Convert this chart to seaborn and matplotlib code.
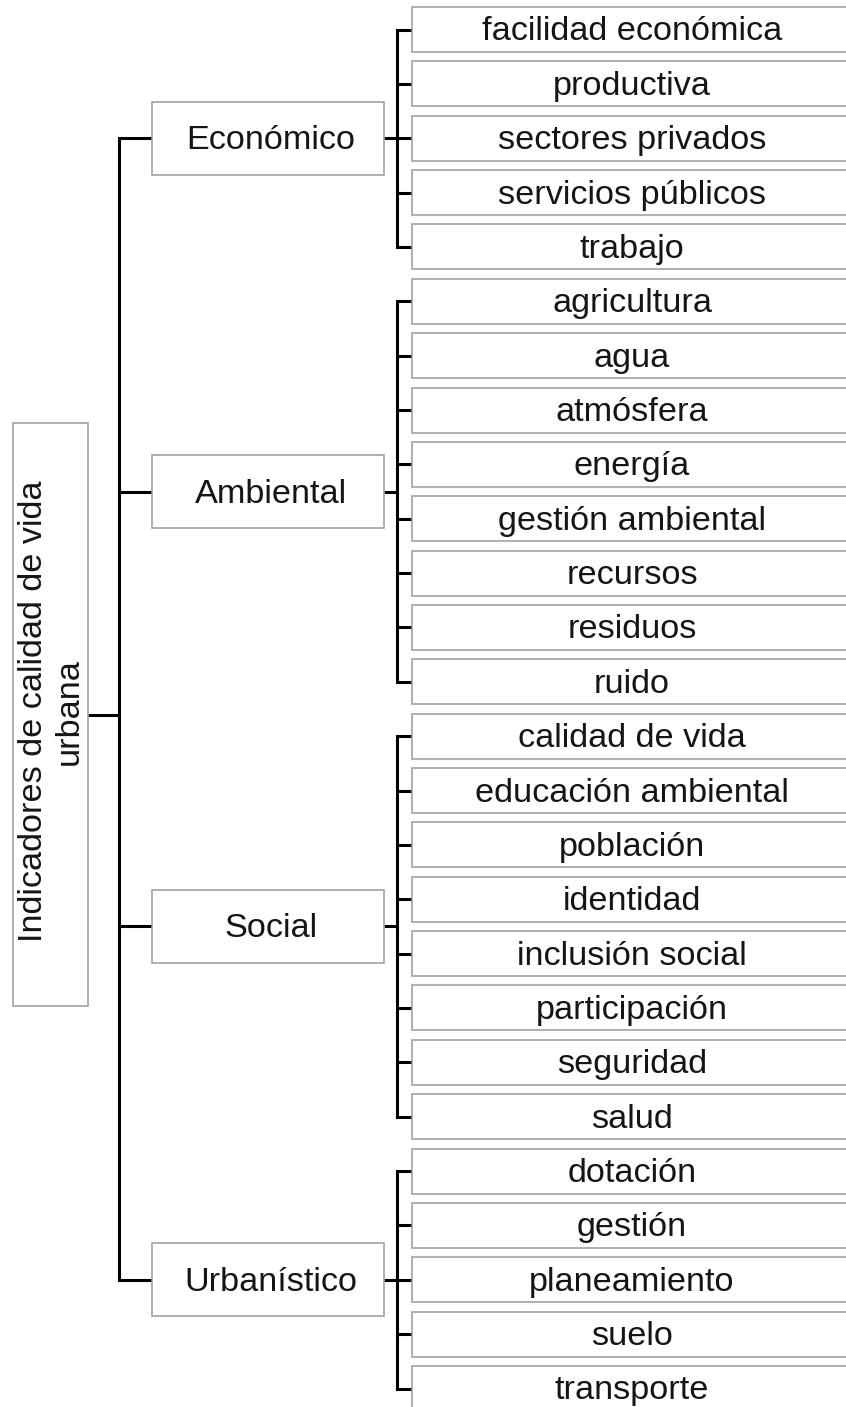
import matplotlib
matplotlib.use("Agg")
import matplotlib.pyplot as plt
import seaborn as sns
import pandas as pd
from matplotlib.patches import Rectangle

# ---------------- data ----------------
root_label = "Indicadores de calidad de vida\nurbana"
categories = ["Económico", "Ambiental", "Social", "Urbanístico"]
leaves_economico = ["facilidad económica", "productiva", "sectores privados",
                    "servicios públicos", "trabajo"]
leaves_ambiental = ["agricultura", "agua", "atmósfera", "energía",
                    "gestión ambiental", "recursos", "residuos", "ruido"]
leaves_social = ["calidad de vida", "educación ambiental", "población",
                 "identidad", "inclusión social", "participación",
                 "seguridad", "salud"]
leaves_urbanistico = ["dotación", "gestión", "planeamiento", "suelo", "transporte"]
groups = [leaves_economico, leaves_ambiental, leaves_social, leaves_urbanistico]

# ---------------- style ----------------
sns.set_theme(style="white")
plt.rcParams['font.family'] = ['Liberation Sans', 'DejaVu Sans']

W, H = 846, 1407
fig = plt.figure(figsize=(W / 100, H / 100), dpi=100)
ax = fig.add_axes([0, 0, 1, 1])

FS = 24.7
EDGE = "#9a9a9a"
ELW = 1.1
LLW = 2.2
TXT = "#151515"

# layout
leaf_x0, leaf_w, leaf_h, leaf_top0, pitch = 412, 460, 45, 7, 54.36
leaf_tx = 632
cat_x0, cat_w, cat_h = 152, 232, 73
trunk2_x = 397
trunk1_x = 119
root_x0, root_w, root_y0, root_h = 13, 75, 423, 583
dy = 2.5

segs = []
seg_id = 0


def add_seg(pts):
    global seg_id
    for x, y in pts:
        segs.append({"x": x, "y": y, "seg": seg_id})
    seg_id += 1


cat_centers = []
k = 0
for gi, (cat, leaves) in enumerate(zip(categories, groups)):
    centers = []
    for leaf in leaves:
        top = leaf_top0 + pitch * k
        c = top + leaf_h / 2
        centers.append(c)
        ax.add_patch(Rectangle((leaf_x0, top), leaf_w, leaf_h, facecolor="white",
                               edgecolor=EDGE, lw=ELW, zorder=2))
        ax.text(leaf_tx, c + dy, leaf, ha="center", va="center",
                fontsize=FS, color=TXT, zorder=3)
        k += 1
    # bracket
    add_seg([(leaf_x0, centers[0]), (trunk2_x, centers[0]),
             (trunk2_x, centers[-1]), (leaf_x0, centers[-1])])
    for c in centers[1:-1]:
        add_seg([(trunk2_x, c), (leaf_x0, c)])
    cc = (centers[0] + centers[-1]) / 2
    cat_centers.append(cc)
    add_seg([(cat_x0 + cat_w, cc), (trunk2_x, cc)])
    ax.add_patch(Rectangle((cat_x0, cc - cat_h / 2), cat_w, cat_h, facecolor="white",
                           edgecolor=EDGE, lw=ELW, zorder=2))
    ax.text(cat_x0 + cat_w / 2 + 3, cc + dy, cat, ha="center", va="center",
            fontsize=FS, color=TXT, zorder=3)

# main trunk
add_seg([(cat_x0, cat_centers[0]), (trunk1_x, cat_centers[0]),
         (trunk1_x, cat_centers[-1]), (cat_x0, cat_centers[-1])])
for c in cat_centers[1:-1]:
    add_seg([(trunk1_x, c), (cat_x0, c)])
root_c = root_y0 + root_h / 2
add_seg([(root_x0 + root_w, root_c), (trunk1_x, root_c)])

ax.add_patch(Rectangle((root_x0, root_y0), root_w, root_h, facecolor="white",
                       edgecolor=EDGE, lw=ELW, zorder=2))
ax.text(root_x0 + root_w / 2 + 1, root_c - 3, root_label, rotation=90, ha="center",
        va="center", multialignment="center", fontsize=FS, color=TXT,
        linespacing=1.2, zorder=3)

df = pd.DataFrame(segs)
sns.lineplot(data=df, x="x", y="y", units="seg", estimator=None, sort=False,
             color="black", lw=LLW, legend=False, ax=ax,
             solid_joinstyle="miter", solid_capstyle="butt", zorder=1)

ax.set_xlim(0, W)
ax.set_ylim(H, 0)
ax.axis("off")
fig.savefig("out.png", dpi=100, facecolor="white")
